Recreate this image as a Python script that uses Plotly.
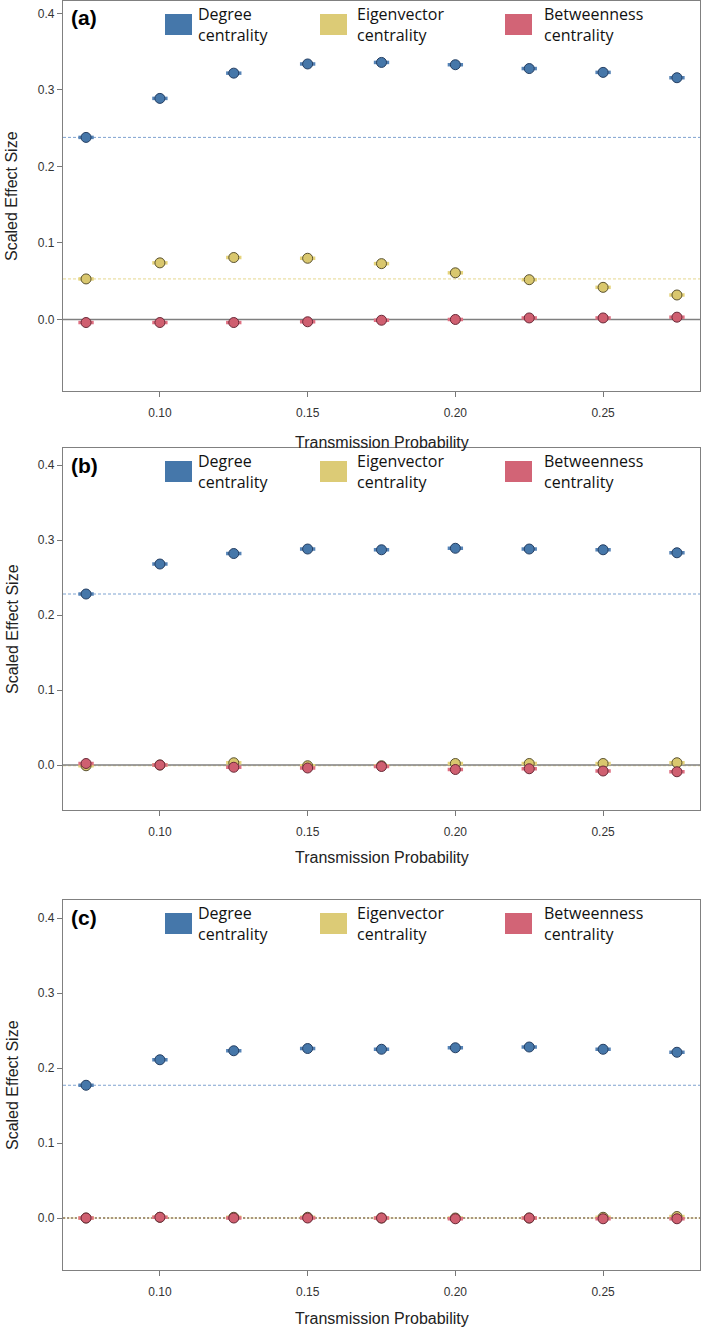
import plotly.graph_objects as go

# ---------------- data ----------------
trans_prob = [0.075, 0.100, 0.125, 0.150, 0.175, 0.200, 0.225, 0.250, 0.275]
x_tickvals = [0.10, 0.15, 0.20, 0.25]
x_ticktext = ["0.10", "0.15", "0.20", "0.25"]
y_tickvals = [0.0, 0.1, 0.2, 0.3, 0.4]
y_ticktext = ["0.0", "0.1", "0.2", "0.3", "0.4"]
series_names = ["Degree<br>centrality", "Eigenvector<br>centrality", "Betweenness<br>centrality"]
panel_labels = ["(a)", "(b)", "(c)"]

a_degree = [0.238, 0.289, 0.322, 0.334, 0.336, 0.333, 0.328, 0.323, 0.316]
a_eigen = [0.053, 0.074, 0.081, 0.080, 0.073, 0.061, 0.052, 0.042, 0.032]
a_between = [-0.004, -0.004, -0.004, -0.003, -0.001, 0.000, 0.002, 0.002, 0.003]

b_degree = [0.228, 0.268, 0.282, 0.288, 0.287, 0.289, 0.288, 0.287, 0.283]
b_eigen = [-0.001, 0.000, 0.003, -0.001, -0.001, 0.002, 0.002, 0.002, 0.003]
b_between = [0.002, 0.000, -0.003, -0.004, -0.002, -0.006, -0.005, -0.008, -0.009]

c_degree = [0.177, 0.211, 0.223, 0.226, 0.225, 0.227, 0.228, 0.225, 0.221]
c_eigen = [0.000, 0.001, 0.001, 0.001, 0.000, 0.000, 0.000, 0.001, 0.002]
c_between = [0.000, 0.001, 0.000, 0.000, 0.000, -0.001, 0.000, -0.001, -0.001]

panels = [
    (a_degree, a_eigen, a_between),
    (b_degree, b_eigen, b_between),
    (c_degree, c_eigen, c_between),
]

# ---------------- style ----------------
W, H = 709, 1331
X_LEFT, X_RIGHT = 63, 700
# (top px, bottom px, y range, x-title px)
panel_geom = [
    (1, 391, [-0.0935, 0.4163], 442),
    (448, 810, [-0.060, 0.4227], 857),
    (900, 1270, [-0.0693, 0.424], 1318),
]
zero_styles = [
    dict(color="#7f7f7f", width=1.5),
    dict(color="#7f7f7f", width=1.5),
    dict(color="#8a7660", width=1.5, dash="2px,2px"),
]
fill_cols = ["#4677a9", "#d9c76e", "#cf5f70"]
edge_cols = ["#253f63", "#5a5230", "#6a2a38"]
err_cols = ["#5583b6", "#e6d47c", "#df7082"]
dash_cols = ["#7fa3d0", "#e6d88e", "#d98090"]
legend_cols = ["#4577aa", "#dccb76", "#d26476"]
legend_x = [(165, 192, 196), (320, 347, 355), (505, 532, 542)]


def px_x(p):
    return p / W


def px_y(p):
    return 1 - p / H


fig = go.Figure()
shapes = []
annotations = []

for i, (series, (top, bot, yr, xt_px)) in enumerate(zip(panels, panel_geom)):
    n = "" if i == 0 else str(i + 1)
    xa = "x" + n
    ya = "y" + n
    for s, vals in enumerate(series):
        fig.add_trace(go.Scatter(
            x=trans_prob, y=vals, mode="markers", xaxis=xa, yaxis=ya,
            showlegend=False, hoverinfo="skip",
            marker=dict(size=10, color=fill_cols[s], line=dict(color=edge_cols[s], width=1)),
            error_x=dict(type="constant", value=0.0026, thickness=3.5, width=0,
                         color=err_cols[s]),
        ))
    # baseline dashed lines at first value (degree, eigenvector)
    for s, vals in enumerate(series[:2]):
        shapes.append(dict(type="line", xref=xa + " domain", yref=ya, x0=0, x1=1,
                           y0=vals[0], y1=vals[0],
                           line=dict(color=dash_cols[s], width=1, dash="3px,2px"),
                           layer="below"))
    # zero line
    shapes.append(dict(type="line", xref=xa + " domain", yref=ya, x0=0, x1=1, y0=0, y1=0,
                       line=zero_styles[i], layer="below"))
    # axes
    fig.update_layout(**{
        ("xaxis" + n): dict(
            domain=[px_x(X_LEFT), px_x(X_RIGHT)], range=[0.0672, 0.2828],
            anchor=ya, tickvals=x_tickvals, ticktext=x_ticktext,
            ticks="outside", ticklen=5, tickcolor="#777",
            showline=True, mirror=True, linecolor="#808080", linewidth=1.2,
            showgrid=False, zeroline=False,
            tickfont=dict(family="Liberation Sans, Arial", size=12, color="#333"),
            ticklabelstandoff=5,
        ),
        ("yaxis" + n): dict(
            domain=[px_y(bot), px_y(top)], range=yr, anchor=xa,
            tickvals=y_tickvals, ticktext=y_ticktext,
            ticks="outside", ticklen=5, tickcolor="#777",
            showline=True, mirror=True, linecolor="#808080", linewidth=1.2,
            showgrid=False, zeroline=False,
            tickfont=dict(family="Liberation Sans, Arial", size=12, color="#333"),
        ),
    })
    # legend squares + labels
    for s in range(3):
        x0, x1, xt = legend_x[s]
        shapes.append(dict(type="rect", xref="paper", yref="paper",
                           x0=px_x(x0), x1=px_x(x1), y0=px_y(top + 34), y1=px_y(top + 13),
                           fillcolor=legend_cols[s], line=dict(width=0)))
        annotations.append(dict(xref="paper", yref="paper", x=px_x(xt), y=px_y(top),
                                xanchor="left", yanchor="top", align="left", showarrow=False,
                                text=series_names[s],
                                font=dict(family="Open Sans, Noto Sans", size=16, color="#111")))
    # panel label
    annotations.append(dict(xref="paper", yref="paper", x=px_x(69), y=px_y(top + 17),
                            xanchor="left", yanchor="middle", showarrow=False,
                            text="<b>" + panel_labels[i] + "</b>",
                            font=dict(family="Liberation Sans, Arial", size=21, color="#000")))
    # axis titles
    annotations.append(dict(xref="paper", yref="paper", x=px_x(12),
                            y=px_y((top + bot) / 2), xanchor="center", yanchor="middle",
                            textangle=-90, showarrow=False, text="Scaled Effect Size",
                            font=dict(family="Liberation Sans, Arial", size=16, color="#222")))
    annotations.append(dict(xref="paper", yref="paper", x=px_x((X_LEFT + X_RIGHT) / 2),
                            y=px_y(xt_px), xanchor="center", yanchor="middle",
                            showarrow=False, text="Transmission Probability",
                            font=dict(family="Liberation Sans, Arial", size=16, color="#222")))

fig.update_layout(
    width=W, height=H, margin=dict(l=0, r=0, t=0, b=0),
    paper_bgcolor="white", plot_bgcolor="white",
    shapes=shapes, annotations=annotations, showlegend=False, hovermode=False,
)

fig.write_html("out.html", config={"displayModeBar": False},
               post_script="document.body.style.margin='0';")
